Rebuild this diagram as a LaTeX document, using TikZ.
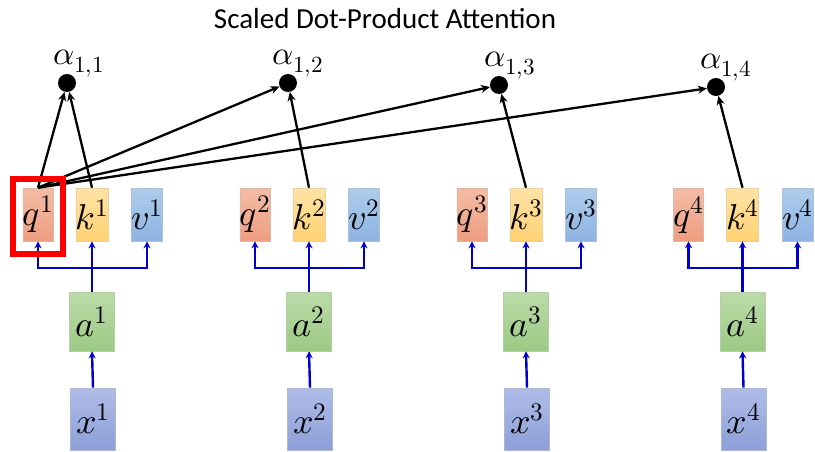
\documentclass[tikz,border=0pt]{standalone}
\usepackage{fontspec}
\usepackage{unicode-math}
\setmathfont{Latin Modern Math}
\setsansfont{Carlito}
\usetikzlibrary{arrows.meta}
\definecolor{qtop}{HTML}{F4BDA6}
\definecolor{qbot}{HTML}{EE9D80}
\definecolor{ktop}{HTML}{FFE3A6}
\definecolor{kbot}{HTML}{FFD173}
\definecolor{vtop}{HTML}{AECCEC}
\definecolor{vbot}{HTML}{8DB3E2}
\definecolor{atop}{HTML}{BBDBA8}
\definecolor{abot}{HTML}{9CC985}
\definecolor{xtop}{HTML}{AEBDE8}
\definecolor{xbot}{HTML}{8E9FD8}
\definecolor{linkblue}{HTML}{0000CC}
\begin{document}
\begin{tikzpicture}[x=1pt,y=-1pt,
  mathtxt/.style={font=\fontsize{36}{38}\selectfont},
  cell/.style={mathtxt, inner sep=0pt, line width=0.6pt, minimum width=29pt, minimum height=53pt},
  qcell/.style={cell, draw=qbot!85!black!60, top color=qtop, bottom color=qbot},
  kcell/.style={cell, draw=kbot!85!black!60, top color=ktop, bottom color=kbot},
  vcell/.style={cell, draw=vbot!85!black!60, top color=vtop, bottom color=vbot},
  acell/.style={mathtxt, inner sep=0pt, line width=0.6pt, minimum width=45pt, minimum height=59pt, draw=abot!85!black!60, top color=atop, bottom color=abot},
  xcell/.style={mathtxt, inner sep=0pt, line width=0.6pt, minimum width=45pt, minimum height=62pt, draw=xbot!85!black!60, top color=xtop, bottom color=xbot},
  dotnode/.style={circle, fill=black, inner sep=0pt, minimum size=18pt},
  alabel/.style={font=\fontsize{33}{35}\selectfont, inner sep=0pt, anchor=south west},
  blueln/.style={draw=linkblue, line width=2.4pt},
  bluearr/.style={blueln, -{Stealth[length=7pt,width=7pt]}},
  blkarr/.style={draw=black, line width=2.3pt, -{Stealth[length=9pt,width=8pt]}},
  hilite/.style={draw=red, line width=6pt, inner sep=0pt, minimum width=50pt, minimum height=75pt}
]
\useasboundingbox (0,0) rectangle (815,452);

\node[font=\sffamily\fontsize{29}{32}\selectfont] (title) at (385,19) {Scaled Dot-Product Attention};

% attention score dots
\node[dotnode] (al1) at (67,83) {};
\node[dotnode] (al2) at (288,83) {};
\node[dotnode] (al3) at (499,85) {};
\node[dotnode] (al4) at (716,87) {};
\node[alabel] (lb1) at (53,77) {$\alpha_{1,1}$};
\node[alabel] (lb2) at (272,77) {$\alpha_{1,2}$};
\node[alabel] (lb3) at (484,79) {$\alpha_{1,3}$};
\node[alabel] (lb4) at (700,81) {$\alpha_{1,4}$};

\foreach \i/\K in {1/92,2/309,3/526,4/742.5}{
  \node[qcell] (q\i) at (\K-54,214.5) {$q^{\i}$};
  \node[kcell] (k\i) at (\K,214.5) {$k^{\i}$};
  \node[vcell] (v\i) at (\K+55,214.5) {$v^{\i}$};
  \node[acell] (a\i) at (\K,321.5) {$a^{\i}$};
  \node[xcell] (x\i) at (\K+1,419) {$x^{\i}$};
  \coordinate (bar\i) at (\K,268);
  \draw[bluearr] (x\i.north) -- (a\i.south);
  \draw[blueln] (a\i.north) -- (bar\i);
  \draw[bluearr] (bar\i) -- (k\i.south);
  \draw[bluearr] (bar\i) -| (q\i.south);
  \draw[bluearr] (bar\i) -| (v\i.south);
  \draw[blkarr] (k\i.north) -- (al\i);
}

% query 1 to every score
\foreach \j in {1,2,3,4}{
  \draw[blkarr] (q1.north) -- (al\j);
}

\node[hilite] (hl) at (38,216.5) {};
\end{tikzpicture}
\end{document}
